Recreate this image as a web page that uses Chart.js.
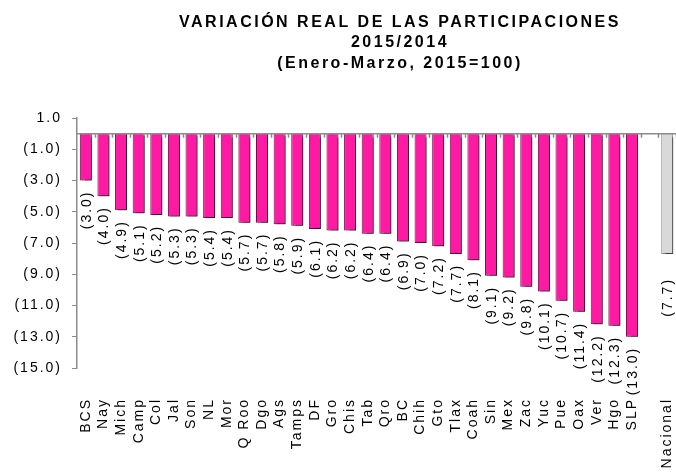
<!DOCTYPE html>
<html>
<head>
<meta charset="utf-8">
<script src="https://cdn.jsdelivr.net/npm/chart.js@4.4.0/dist/chart.umd.min.js"></script>
<style>
  body { margin: 0; background: #fff; }
</style>
</head>
<body>
<canvas id="partChart" width="676" height="475"></canvas>
<script>
// data
const states = ['BCS', 'Nay', 'Mich', 'Camp', 'Col', 'Jal', 'Son', 'NL', 'Mor', 'Q Roo', 'Dgo', 'Ags',
  'Tamps', 'DF', 'Gro', 'Chis', 'Tab', 'Qro', 'BC', 'Chih', 'Gto', 'Tlax', 'Coah', 'Sin', 'Mex', 'Zac',
  'Yuc', 'Pue', 'Oax', 'Ver', 'Hgo', 'SLP'];
const stateValues = [-3.0, -4.0, -4.9, -5.1, -5.2, -5.3, -5.3, -5.4, -5.4, -5.7, -5.7, -5.8,
  -5.9, -6.1, -6.2, -6.2, -6.4, -6.4, -6.9, -7.0, -7.2, -7.7, -8.1, -9.1, -9.2, -9.8,
  -10.1, -10.7, -11.4, -12.2, -12.3, -13.0];
const nationalLabel = 'Nacional';
const nationalValue = -7.7;
const yTicks = [1, -1, -3, -5, -7, -9, -11, -13, -15];
const titleLines = ['VARIACIÓN REAL DE LAS PARTICIPACIONES', '2015/2014', '(Enero-Marzo, 2015=100)'];

const labels = states.concat(['', nationalLabel]);
const values = stateValues.concat([null, nationalValue]);
const lastIdx = labels.length - 1;

const fillColors = labels.map((l, i) => i === lastIdx ? '#d9d9d9' : '#ff1aa3');
const edgeColors = labels.map((l, i) => i === lastIdx ? '#8c8c8c' : '#7a0a4c');

const FONT = 'Arial, "Liberation Sans", sans-serif';

function fmt(v) {
  return v < 0 ? '(' + Math.abs(v).toFixed(1) + ')' : v.toFixed(1);
}

const excelLook = {
  id: 'excelLook',
  beforeDraw(chart) {
    chart.ctx.letterSpacing = '2px';
  },
  beforeDatasetsDraw(chart) {
    const ctx = chart.ctx;
    ctx.save();
    ctx.shadowColor = 'rgba(0,0,0,0.55)';
    ctx.shadowOffsetX = 2;
    ctx.shadowOffsetY = 2;
    ctx.shadowBlur = 1;
  },
  afterDatasetsDraw(chart) {
    const ctx = chart.ctx;
    ctx.restore();
    const area = chart.chartArea;
    const y = chart.scales.y;
    const y0 = y.getPixelForValue(0);

    // zero line with category tick marks
    ctx.save();
    ctx.strokeStyle = '#8c8c8c';
    ctx.lineWidth = 1.5;
    ctx.beginPath();
    ctx.moveTo(area.left, y0);
    ctx.lineTo(area.right, y0);
    const step = (area.right - area.left) / labels.length;
    for (let i = 1; i <= labels.length; i++) {
      const bx = Math.round(area.left + i * step) + 0.5;
      ctx.moveTo(bx, y0);
      ctx.lineTo(bx, y0 + 4);
    }
    ctx.stroke();

    // value labels, rotated, under the bar ends
    ctx.fillStyle = '#000';
    ctx.font = '14px ' + FONT;
    ctx.letterSpacing = '2px';
    ctx.textAlign = 'right';
    ctx.textBaseline = 'middle';
    chart.getDatasetMeta(0).data.forEach((bar, i) => {
      const v = values[i];
      if (v === null) return;
      const gap = i === lastIdx ? 24 : 10;
      ctx.save();
      ctx.translate(bar.x + 1, bar.y + gap);
      ctx.rotate(-Math.PI / 2);
      ctx.fillText(fmt(v), 0, 0);
      ctx.restore();
    });
    ctx.restore();
  },
  afterDraw(chart) {
    const ctx = chart.ctx;
    ctx.save();
    ctx.fillStyle = '#000';
    ctx.font = 'bold 16px ' + FONT;
    ctx.letterSpacing = '2.5px';
    ctx.textAlign = 'center';
    ctx.textBaseline = 'middle';
    titleLines.forEach((t, i) => ctx.fillText(t, 400, 22.5 + i * 20.3));
    ctx.restore();
  }
};

new Chart(document.getElementById('partChart'), {
  type: 'bar',
  data: {
    labels: labels,
    datasets: [{
      data: values,
      backgroundColor: fillColors,
      borderColor: edgeColors,
      borderWidth: 1,
      barPercentage: 0.68,
      categoryPercentage: 1.0
    }]
  },
  options: {
    responsive: false,
    animation: false,
    devicePixelRatio: 1,
    layout: { padding: { top: 118, right: -2, bottom: 0, left: 0 } },
    plugins: {
      legend: { display: false },
      tooltip: { enabled: false },
      title: { display: false }
    },
    scales: {
      x: {
        grid: { display: false },
        border: { display: false },
        ticks: {
          autoSkip: false,
          minRotation: 90,
          maxRotation: 90,
          padding: 22,
          color: '#000',
          font: { family: FONT, size: 14 }
        },
        afterFit(scale) {
          scale.height = 107;
          scale.paddingLeft = 0;
          scale.paddingRight = -2;
        }
      },
      y: {
        min: -15,
        max: 1,
        afterBuildTicks(scale) { scale.ticks = yTicks.map(v => ({ value: v })); },
        grid: { drawOnChartArea: false, tickLength: 5, color: '#8c8c8c' },
        border: { color: '#8c8c8c', width: 1.5 },
        ticks: {
          padding: 10,
          color: '#000',
          font: { family: FONT, size: 14 },
          callback: v => fmt(v)
        },
        afterFit(scale) { scale.width = 77; }
      }
    }
  },
  plugins: [excelLook]
});
</script>
</body>
</html>
